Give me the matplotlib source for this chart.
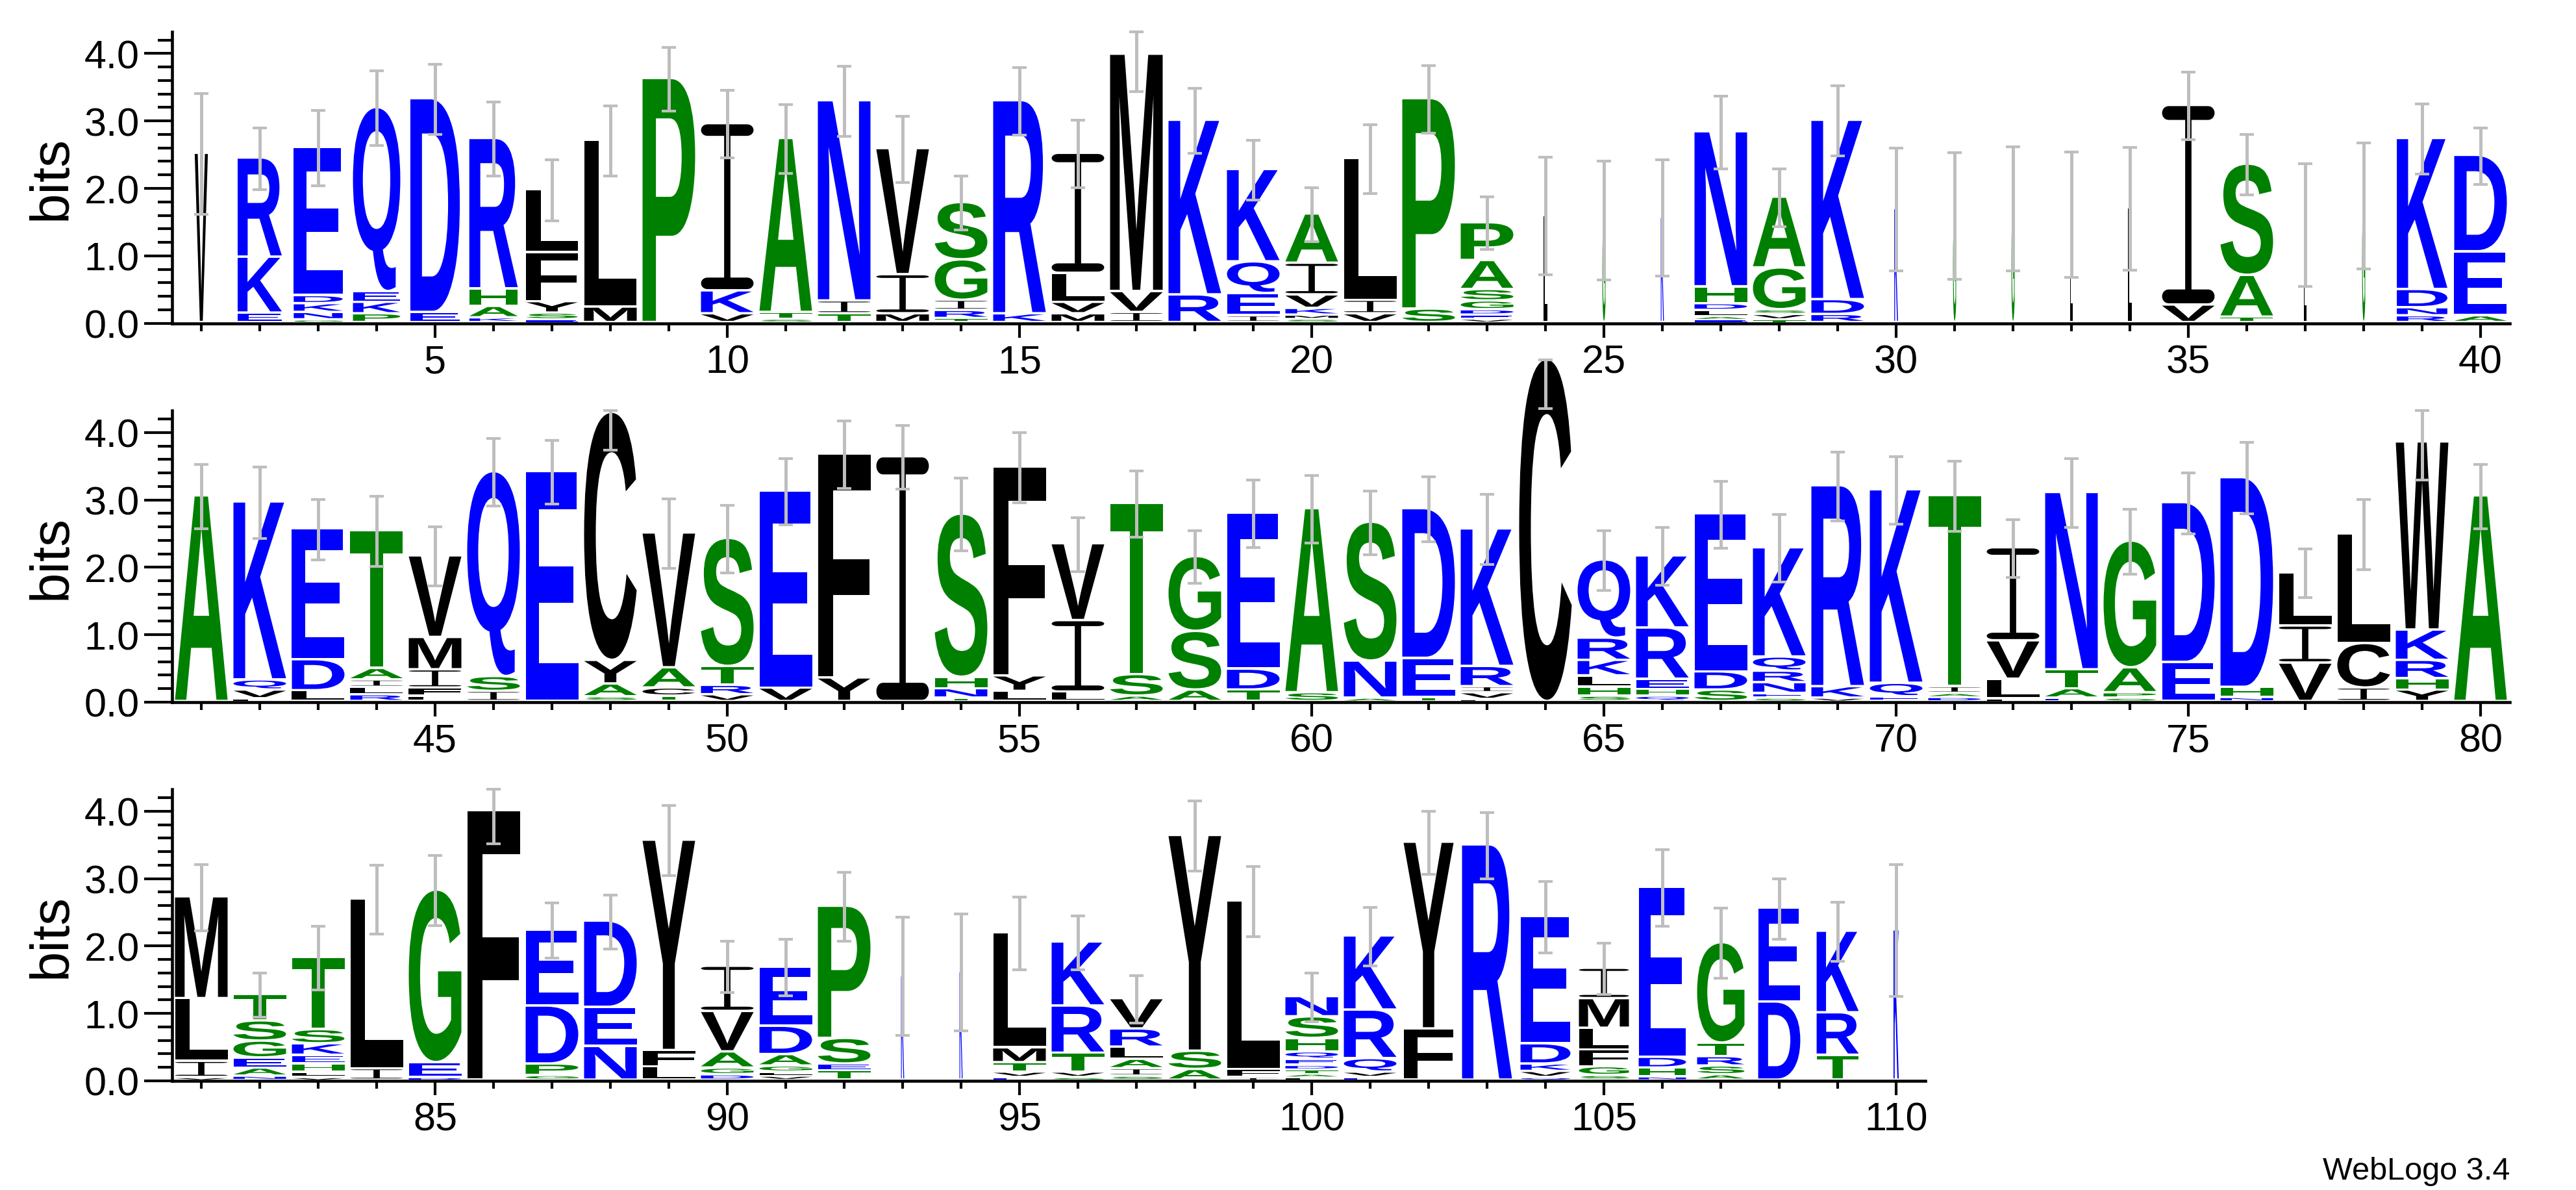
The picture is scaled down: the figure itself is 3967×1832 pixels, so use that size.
import numpy as np
import matplotlib
matplotlib.use("Agg")
import matplotlib.pyplot as plt
from matplotlib.textpath import TextPath
from matplotlib.patches import PathPatch
from matplotlib.path import Path
from matplotlib.font_manager import FontProperties
from matplotlib.transforms import Affine2D
from matplotlib.ticker import MultipleLocator, FormatStrFormatter

POSITIONS = list(range(1, 111))

# letters of each stack, bottom -> top
STACK_LETTERS = [
    "V", "EKR", "GNKDE", "PKEQ", "ED", "KAHR", "ESYFL", "ML", "P", "VKI",
    "STA", "TIN", "MIV", "TRIGS", "KR", "MVLI", "IVM", "RK", "IEQK", "SMKVIA",
    "VIL", "SP", "VEDGSAP", "L", "G", "K", "EALDHN", "TVSGA", "RDK", "K",
    "G", "G", "L", "L", "VI", "TAS", "L", "G", "RNDK", "AED",
    "A", "LVQK", "LDE", "RLIAT", "LFIMV", "ISQ", "E", "SAYC", "TCAV", "VRTS",
    "VE", "YF", "I", "TNHS", "LYF", "LIV", "AST", "ASG", "TDE", "SA",
    "ANS", "TED", "LVIRK", "C", "SHLKRQ", "QHERK", "SDE", "SENRQK", "VKR", "EQK",
    "DAIT", "FLVI", "EATN", "SPAG", "ED", "NHD", "VIL", "ICL", "YHRKW", "A",
    "VILM", "NAEGST", "VLHEKST", "IL", "DEG", "F", "GPDE", "NED", "LFY", "DGAVI",
    "VLGADE", "TESP", "K", "K", "EVTML", "SVTRK", "SIALRV", "ASY", "IFL", "LATDEQHSN",
    "EVQRK", "FY", "R", "QVKDE", "SGFLMI", "NHDE", "ASRTG", "DE", "TRK", "K",
]

# information (bits) of each letter, bottom -> top
STACK_BITS = [
    [2.51], [0.14, 0.83, 1.47], [0.04, 0.11, 0.13, 0.12, 2.20], [0.13, 0.17, 0.16, 2.73],
    [0.15, 3.17], [0.07, 0.17, 0.26, 2.23], [0.04, 0.10, 0.17, 0.73, 0.93], [0.23, 2.47],
    [3.62], [0.13, 0.34, 2.48],
    [0.05, 0.10, 2.58], [0.13, 0.19, 2.97], [0.13, 0.58, 1.87], [0.06, 0.12, 0.15, 0.60, 0.85],
    [0.13, 3.16], [0.13, 0.17, 0.43, 1.78], [0.15, 0.31, 3.52], [0.41, 2.59],
    [0.10, 0.33, 0.47, 1.37], [0.05, 0.06, 0.10, 0.20, 0.47, 0.73],
    [0.13, 0.20, 2.10], [0.20, 3.12], [0.05, 0.06, 0.08, 0.13, 0.17, 0.43, 0.56], [1.59],
    [1.52], [1.56], [0.04, 0.05, 0.09, 0.10, 0.25, 2.30], [0.04, 0.08, 0.07, 0.62, 1.05],
    [0.12, 0.22, 2.66], [1.69],
    [1.59], [1.70], [1.61], [1.70], [0.26, 2.96], [0.08, 0.62, 1.65], [1.46], [1.74],
    [0.10, 0.12, 0.27, 2.24], [0.10, 0.95, 1.43],
    [3.05], [0.04, 0.13, 0.15, 2.64], [0.16, 0.46, 1.94], [0.10, 0.11, 0.11, 0.17, 2.04],
    [0.08, 0.12, 0.27, 0.48, 1.21], [0.15, 0.22, 3.04], [3.41], [0.07, 0.19, 0.35, 3.68],
    [0.08, 0.12, 0.30, 2.00], [0.10, 0.14, 0.28, 1.90],
    [0.20, 2.92], [0.35, 3.32], [3.63], [0.05, 0.14, 0.17, 2.42], [0.15, 0.23, 3.10],
    [0.14, 1.06, 1.14], [0.08, 0.32, 2.54], [0.17, 0.87, 1.11], [0.17, 0.31, 2.31], [0.13, 2.73],
    [0.05, 0.55, 2.06], [0.06, 0.58, 2.22], [0.03, 0.10, 0.09, 0.30, 2.04], [5.08],
    [0.08, 0.13, 0.17, 0.23, 0.33, 1.16], [0.08, 0.10, 0.15, 0.76, 1.07], [0.17, 0.27, 2.34],
    [0.05, 0.07, 0.16, 0.17, 0.21, 1.62], [0.05, 0.17, 2.98], [0.07, 0.20, 2.87],
    [0.06, 0.06, 0.10, 2.83], [0.04, 0.29, 0.57, 1.38], [0.05, 0.14, 0.28, 2.63],
    [0.05, 0.08, 0.37, 1.88], [0.58, 2.37], [0.06, 0.15, 3.11], [0.57, 0.55, 0.79],
    [0.20, 0.66, 1.63], [0.17, 0.17, 0.27, 0.45, 2.79], [3.05],
    [0.04, 0.24, 0.93, 1.51], [0.06, 0.12, 0.15, 0.25, 0.30, 0.39],
    [0.04, 0.08, 0.12, 0.13, 0.17, 0.21, 1.07], [0.17, 2.52], [0.04, 0.22, 2.56], [4.00],
    [0.07, 0.17, 0.86, 1.13], [0.50, 0.58, 1.28], [0.20, 0.24, 3.12],
    [0.08, 0.10, 0.24, 0.60, 0.67],
    [0.06, 0.06, 0.09, 0.17, 0.42, 0.88], [0.14, 0.10, 0.38, 1.96], [1.55], [1.61],
    [0.04, 0.08, 0.14, 0.22, 1.71], [0.04, 0.08, 0.28, 0.70, 0.95],
    [0.06, 0.11, 0.14, 0.18, 0.27, 0.45], [0.16, 0.27, 3.20], [0.04, 0.12, 2.50],
    [0.04, 0.05, 0.06, 0.07, 0.09, 0.11, 0.20, 0.32, 0.30],
    [0.04, 0.08, 0.20, 0.72, 1.10], [0.76, 2.77], [3.49], [0.04, 0.09, 0.11, 0.30, 1.89],
    [0.07, 0.13, 0.25, 0.32, 0.44, 0.45], [0.05, 0.13, 0.16, 2.52],
    [0.08, 0.13, 0.14, 0.20, 1.49], [1.16, 1.39], [0.37, 0.63, 1.21], [2.23],
]

# fraction of non-gap residues (sets stack width)
OCCUPANCY = [
    0.25, 0.84, 0.93, 0.90, 0.94, 0.92, 0.98, 1.00, 1.00, 1.00,
    1.00, 1.00, 1.00, 1.00, 1.00, 1.00, 1.00, 1.00, 1.00, 1.00,
    1.00, 1.00, 1.00, 0.08, 0.06, 0.06, 1.00, 1.00, 1.00, 0.07,
    0.06, 0.06, 0.06, 0.08, 1.00, 1.00, 0.06, 0.06, 0.96, 1.00,
    1.00, 1.00, 1.00, 1.00, 1.00, 1.00, 1.00, 1.00, 1.00, 1.00,
    1.00, 1.00, 1.00, 1.00, 1.00, 1.00, 1.00, 1.00, 1.00, 1.00,
    1.00, 1.00, 1.00, 1.00, 1.00, 1.00, 1.00, 1.00, 1.00, 1.00,
    1.00, 1.00, 1.00, 1.00, 1.00, 1.00, 1.00, 1.00, 1.00, 1.00,
    1.00, 1.00, 1.00, 1.00, 1.00, 1.00, 1.00, 1.00, 1.00, 1.00,
    1.00, 1.00, 0.06, 0.06, 1.00, 1.00, 1.00, 1.00, 1.00, 1.00,
    1.00, 0.95, 0.95, 0.95, 0.95, 0.90, 0.90, 0.80, 0.80, 0.10,
]

# half length of the error bar (bits)
ERR_HALF = [
    0.90, 0.46, 0.56, 0.55, 0.52, 0.55, 0.45, 0.52, 0.47, 0.50,
    0.51, 0.52, 0.49, 0.40, 0.50, 0.50, 0.54, 0.48, 0.44, 0.40,
    0.51, 0.50, 0.39, 0.87, 0.88, 0.86, 0.54, 0.43, 0.52, 0.91,
    0.94, 0.92, 0.93, 0.91, 0.50, 0.45, 0.91, 0.93, 0.52, 0.42,
    0.48, 0.53, 0.45, 0.52, 0.44, 0.50, 0.47, 0.55, 0.52, 0.50,
    0.49, 0.50, 0.47, 0.54, 0.52, 0.40, 0.49, 0.39, 0.50, 0.50,
    0.47, 0.48, 0.52, 0.73, 0.44, 0.43, 0.50, 0.50, 0.51, 0.50,
    0.52, 0.43, 0.51, 0.48, 0.45, 0.53, 0.36, 0.52, 0.56, 0.48,
    0.49, 0.33, 0.47, 0.51, 0.52, 0.48, 0.41, 0.40, 0.52, 0.38,
    0.42, 0.51, 0.88, 0.87, 0.54, 0.40, 0.35, 0.52, 0.52, 0.36,
    0.43, 0.47, 0.49, 0.53, 0.38, 0.57, 0.52, 0.45, 0.44, 0.98,
]

ROWS = [(1, 40), (41, 80), (81, 110)]
YMAX = np.log2(20)

# hydrophobicity colour scheme
COLORS = {}
for c in "RKDENQ":
    COLORS[c] = "#0000FF"
for c in "SGHTAP":
    COLORS[c] = "#008000"
for c in "YVMCLFIW":
    COLORS[c] = "#000000"

# ---------------- glyphs ----------------
FP_BOLD = FontProperties(family=["Liberation Sans", "DejaVu Sans"], weight="bold")


def make_I():
    bh, rx, sw = 0.07, 0.12, 0.12
    ry = bh / 2
    pts = []

    def arc(cx, cy, a0, a1, n=10):
        for a in np.linspace(a0, a1, n):
            pts.append((cx + rx * np.cos(a), cy + ry * np.sin(a)))

    pts.append((rx, 0.0))
    pts.append((1 - rx, 0.0))
    arc(1 - rx, ry, -np.pi / 2, np.pi / 2)
    pts.append((0.5 + sw / 2, bh))
    pts.append((0.5 + sw / 2, 1 - bh))
    pts.append((1 - rx, 1 - bh))
    arc(1 - rx, 1 - ry, -np.pi / 2, np.pi / 2)
    pts.append((rx, 1.0))
    arc(rx, 1 - ry, np.pi / 2, 3 * np.pi / 2)
    pts.append((0.5 - sw / 2, 1 - bh))
    pts.append((0.5 - sw / 2, bh))
    pts.append((rx, bh))
    arc(rx, ry, np.pi / 2, 3 * np.pi / 2)
    pts.append(pts[0])
    codes = [Path.MOVETO] + [Path.LINETO] * (len(pts) - 2) + [Path.CLOSEPOLY]
    return Path(pts, codes)


_glyph_cache = {}


def unit_glyph(ch):
    if ch in _glyph_cache:
        return _glyph_cache[ch]
    if ch == "I":
        p = make_I()
    else:
        tp = TextPath((0, 0), ch, size=100, prop=FP_BOLD)
        ext = tp.get_extents()
        p = Affine2D().translate(-ext.x0, -ext.y0).scale(1.0 / ext.width, 1.0 / ext.height).transform_path(tp)
    _glyph_cache[ch] = p
    return p


def draw_letter(ax, ch, xc, y0, w, h):
    pad = 0.036
    ink = h - pad if h > 2 * pad else h * 0.5
    base = y0 + (h - ink)
    p = Affine2D().scale(w, ink).translate(xc - w / 2, base).transform_path(unit_glyph(ch))
    ax.add_patch(PathPatch(p, facecolor=COLORS[ch], edgecolor="none", lw=0, clip_on=False, zorder=3))


# ---------------- figure ----------------
plt.rcParams["font.family"] = ["Liberation Sans", "DejaVu Sans"]
W_PX, H_PX = 3967, 1833
fig = plt.figure(figsize=(W_PX / 100, H_PX / 100), dpi=100)

left_px = 265
pos_px = 90.0
bit_px = 103.8
baselines = [498.6, 1082.0, 1665.0]

EB_COLOR = "#BEBEBE"
STACK_W = 0.9

for (start, end), base_px in zip(ROWS, baselines):
    n = end - start + 1
    ax = fig.add_axes([left_px / W_PX, 1 - base_px / H_PX, n * pos_px / W_PX, YMAX * bit_px / H_PX])
    ax.set_xlim(start - 0.5, end + 0.5)
    ax.set_ylim(0, YMAX)
    ax.patch.set_alpha(0)
    for s in ("top", "right"):
        ax.spines[s].set_visible(False)
    for s in ("left", "bottom"):
        ax.spines[s].set_linewidth(3.3)

    for pos in range(start, end + 1):
        i = pos - 1
        w = STACK_W * OCCUPANCY[i]
        y = 0.0
        for ch, h in zip(STACK_LETTERS[i], STACK_BITS[i]):
            draw_letter(ax, ch, pos, y, w, h)
            y += h
        top = y
        e = ERR_HALF[i]
        lo = top - e
        hi = min(top + e, max(top, YMAX))
        ax.vlines(pos, lo, hi, colors=EB_COLOR, lw=3.6, zorder=5, clip_on=False)
        ax.hlines([lo, hi], pos - 0.12, pos + 0.12, colors=EB_COLOR, lw=3.0, zorder=5, clip_on=False)

    ax.xaxis.set_major_locator(MultipleLocator(5))
    ax.xaxis.set_minor_locator(MultipleLocator(1))
    ax.yaxis.set_major_locator(MultipleLocator(1))
    ax.yaxis.set_minor_locator(MultipleLocator(0.2))
    ax.yaxis.set_major_formatter(FormatStrFormatter("%.1f"))
    ax.tick_params(axis="x", which="major", direction="out", length=16, width=3.0, pad=7, labelsize=44)
    ax.tick_params(axis="x", which="minor", direction="out", length=8.6, width=3.0)
    ax.tick_params(axis="y", which="major", direction="out", length=31, width=3.0, pad=5, labelsize=44)
    ax.tick_params(axis="y", which="minor", direction="out", length=15.5, width=3.0)

    yc = 1 - (base_px - YMAX * bit_px / 2) / H_PX
    fig.text(102 / W_PX, yc, "bits", rotation=90, rotation_mode="anchor",
             ha="center", va="baseline", fontsize=60)

fig.text(3865 / W_PX, 1 - 1816 / H_PX, "WebLogo 3.4", ha="right", va="baseline", fontsize=35)

fig.savefig("out.png", dpi=100, facecolor="white")
